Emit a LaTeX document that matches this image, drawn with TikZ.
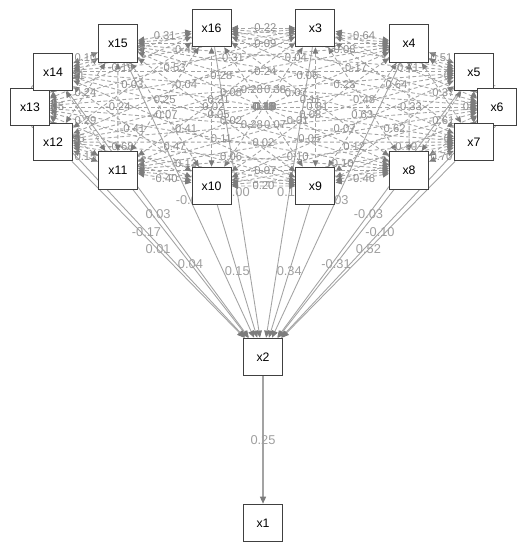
\documentclass[tikz,border=0pt]{standalone}
\usepackage{fontspec}
\setmainfont{Liberation Sans}
\usetikzlibrary{arrows.meta,backgrounds}
\definecolor{edgegray}{HTML}{A3A3A3}
\definecolor{labgray}{HTML}{8E8E8E}
\definecolor{tipgray}{HTML}{7C7C7C}

\begin{document}
\begin{tikzpicture}[x=0.02cm, y=-0.02cm,
    every node/.style={font=\fontsize{7}{8}\selectfont},
    box/.style={draw=black!75, fill=white, line width=0.6pt, minimum width=0.78cm, minimum height=0.75cm, inner sep=0pt},
    reg/.style={draw=edgegray, line width=0.5pt, -{Triangle[length=4pt, width=3.4pt, color=tipgray]}},
    cov/.style={draw=edgegray, line width=0.5pt, dash pattern=on 2.2pt off 1.4pt,
        {Triangle[length=3.6pt, width=3.2pt, color=tipgray]}-{Triangle[length=3.6pt, width=3.2pt, color=tipgray]}},
    reglab/.style={text=labgray!85, font=\fontsize{7.3}{8}\selectfont, inner sep=1pt},
    covlab/.style={text=labgray, font=\fontsize{6.4}{7}\selectfont, inner sep=0.5pt}]
    \useasboundingbox (0,0) rectangle (526,550);

    % exogenous variables on an ellipse
    \foreach \i in {3,...,16} {
        \pgfmathsetmacro\ang{77.142857-(\i-3)*25.714286}
        \node[box] (x\i) at ({263.5+233.5*cos(\ang)}, {107-81*sin(\ang)}) {x\i};
    }
    \node[box] (x2) at (263,357) {x2};
    \node[box] (x1) at (263,523) {x1};

    \begin{pgfonlayer}{background}
        % regressions on x2
        \foreach \i/\w in {3/0.11, 4/0.03, 5/-0.03, 6/-0.10, 7/0.52, 8/-0.31, 9/0.34,
                           10/0.15, 11/0.04, 12/0.01, 13/-0.17, 14/0.03, 15/-0.06, 16/0.00}
            \draw[reg] (x\i) -- node[reglab] {\w} (x2);
        \draw[reg, line width=0.8pt] (x2) -- node[reglab] {0.25} (x1);

        % covariances
        \foreach \a/\b/\w in {
            3/4/-0.64, 3/5/0.39, 3/6/-0.71, 3/7/-0.64, 3/8/-0.48, 3/9/-0.81, 3/10/-0.18,
            3/11/-0.21, 3/12/-0.04, 3/13/-0.53, 3/14/-0.45, 3/15/0.26, 3/16/-0.22,
            4/5/0.51, 4/6/-0.14, 4/7/-0.37, 4/8/-0.33, 4/9/0.63, 4/10/0.08, 4/11/0.13,
            4/12/0.08, 4/13/-0.28, 4/14/-0.31, 4/15/-0.09, 4/16/0.17,
            5/6/0.45, 5/7/0.66, 5/8/-0.61, 5/9/0.62, 5/10/-0.07, 5/11/-0.01, 5/12/-0.13,
            5/13/0.28, 5/14/-0.24, 5/15/0.04, 5/16/-0.08,
            6/7/0.58, 6/8/-0.12, 6/9/0.70, 6/10/0.12, 6/11/-0.05, 6/12/0.07, 6/13/0.18,
            6/14/0.38, 6/15/0.06, 6/16/-0.17,
            7/8/0.70, 7/9/0.09, 7/10/0.10, 7/11/-0.10, 7/12/0.02, 7/13/0.28, 7/14/-0.10,
            7/15/0.07, 7/16/-0.23,
            8/9/-0.46, 8/10/0.05, 8/11/-0.07, 8/12/0.06, 8/13/-0.11, 8/14/0.02, 8/15/0.16,
            8/16/0.11,
            9/10/0.20, 9/11/-0.03, 9/12/-0.13, 9/13/-0.47, 9/14/-0.41, 9/15/-0.05, 9/16/-0.18,
            10/11/-0.40, 10/12/0.32, 10/13/-0.68, 10/14/-0.41, 10/15/-0.07, 10/16/-0.02,
            11/12/0.15, 11/13/0.55, 11/14/0.29, 11/15/-0.24, 11/16/0.25,
            12/13/0.49, 12/14/0.05, 12/15/0.24, 12/16/0.03,
            13/14/0.57, 13/15/0.21, 13/16/-0.19,
            14/15/0.10, 14/16/0.30,
            15/16/0.31}
            \draw[cov] (x\a) -- node[covlab] {\w} (x\b);
    \end{pgfonlayer}
\end{tikzpicture}
\end{document}
